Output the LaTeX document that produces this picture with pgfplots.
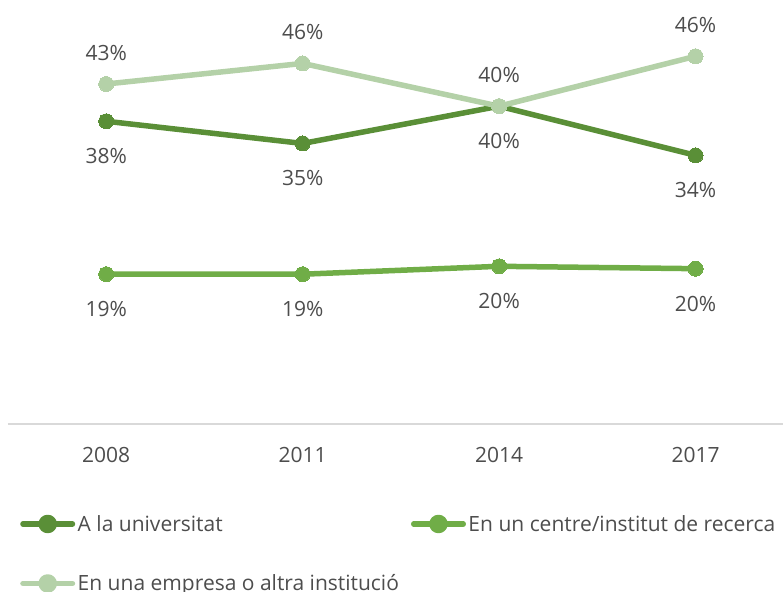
\documentclass[border=0pt]{standalone}
\usepackage{pgfplots}
\pgfplotsset{compat=1.18}
\usepackage{fontspec}
\setmainfont{Open Sans}
\definecolor{cdark}{HTML}{5A8F37}
\definecolor{cmid}{HTML}{70AD47}
\definecolor{clight}{HTML}{B4D1A8}
\definecolor{ctext}{HTML}{4D4D4D}
\definecolor{caxis}{HTML}{D9D9D9}
\begin{document}
\begin{tikzpicture}[font=\fontsize{21pt}{25pt}\selectfont]
\useasboundingbox (0,0) rectangle (783pt,-591pt);
\begin{axis}[
  at={(8pt,-424pt)}, anchor=south west,
  scale only axis, width=775pt, height=424pt,
  xmin=-0.5, xmax=3.445, ymin=0, ymax=53.5,
  axis x line*=bottom, axis y line=none,
  x axis line style={draw=caxis, line width=1.5pt, -},
  xtick={0,1,2,3}, xticklabels={2008,2011,2014,2017},
  major tick length=0pt,
  xticklabel style={text=ctext, anchor=center, yshift=-31pt},
  ytick=\empty,
  clip=false,
  point meta=explicit symbolic,
  nodes near coords={\pgfplotspointmeta\%},
  every node near coord/.append style={text=ctext, anchor=center},
  legend columns=2,
  legend cell align=left,
  legend image code/.code={
    \draw[line width=5.5pt, line cap=round] (2.75pt,0pt) -- (52.25pt,0pt);
    \fill (27.5pt,0pt) circle (6.5pt);
  },
  legend style={
    at={(axis description cs:0.0155,-0.2135)}, anchor=north west,
    draw=none, fill=none, text=ctext, inner sep=0pt,
    nodes={inner sep=0pt},
    row sep=41pt,
    /tikz/every odd column/.append style={column sep=2.5pt},
    /tikz/every even column/.append style={column sep=12pt},
  },
]
\addplot[color=cdark, line width=5.5pt, line join=round, mark=*, mark size=7.5pt, mark options={line width=0pt, solid, fill=cdark},
  every node near coord/.append style={yshift=-35pt}] coordinates {
  (0,38.2) [38] (1,35.4) [35] (2,40.1) [40] (3,33.9) [34]
};
\addlegendentry{A la universitat}
\addplot[color=cmid, line width=5.5pt, line join=round, mark=*, mark size=7.5pt, mark options={line width=0pt, solid, fill=cmid},
  every node near coord/.append style={yshift=-35pt}] coordinates {
  (0,18.9) [19] (1,18.9) [19] (2,19.9) [20] (3,19.6) [20]
};
\addlegendentry{En un centre/institut de recerca}
\addplot[color=clight, line width=5.5pt, line join=round, mark=*, mark size=7.5pt, mark options={line width=0pt, solid, fill=clight},
  every node near coord/.append style={yshift=31pt}] coordinates {
  (0,42.9) [43] (1,45.5) [46] (2,40.1) [40] (3,46.4) [46]
};
\addlegendentry{En una empresa o altra institució}
\end{axis}
\end{tikzpicture}
\end{document}
